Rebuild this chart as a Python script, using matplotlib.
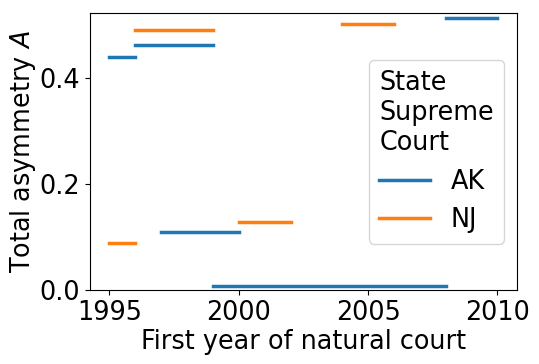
import matplotlib.pyplot as plt

# each court: (first year, last year, total asymmetry)
ak_start = [1995, 1996, 1997, 1999, 2008]
ak_end = [1996, 1999, 2000, 2008, 2010]
ak_asym = [0.44, 0.461, 0.109, 0.008, 0.512]

nj_start = [1995, 1996, 2000, 2004]
nj_end = [1996, 1999, 2002, 2006]
nj_asym = [0.089, 0.491, 0.129, 0.501]

states = ["AK", "NJ"]


def main():
    plt.rcParams["font.size"] = 18.4
    fig = plt.figure(figsize=(5.39, 3.64), dpi=100)
    ax = fig.add_axes([0.167, 0.203, 0.792, 0.761])

    series = [(ak_start, ak_end, ak_asym), (nj_start, nj_end, nj_asym)]
    colors = ["#1f77b4", "#ff7f0e"]
    for state, (s, e, a), c in zip(states, series, colors):
        for i in range(len(s)):
            ax.plot([s[i], e[i]], [a[i], a[i]], color=c, lw=2.5,
                    label=state if i == 0 else None)

    ax.set_xlim(1994.25, 2010.75)
    ax.set_ylim(0, 0.522)
    ax.set_xticks([1995, 2000, 2005, 2010])
    ax.set_yticks([0.0, 0.2, 0.4])
    ax.set_xlabel("First year of natural court", labelpad=2)
    ax.set_ylabel("Total asymmetry $A$", labelpad=1)

    ax.legend(title="State\nSupreme\nCourt", loc="center right",
              alignment="left", title_fontsize=18.4, fontsize=18.4,
              handlelength=2.0)

    fig.savefig("out.png")


if __name__ == "__main__":
    main()
